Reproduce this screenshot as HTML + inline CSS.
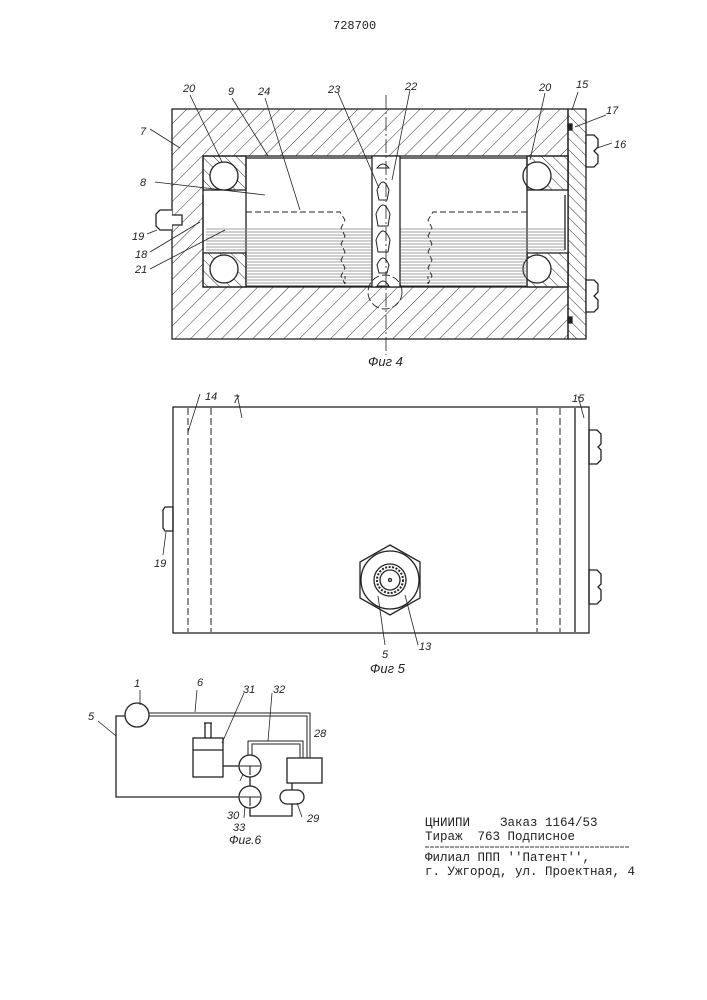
<!DOCTYPE html>
<html><head><meta charset="utf-8"><style>
html,body{margin:0;padding:0;background:#fff}
svg{display:block}
text{font-family:"Liberation Sans",sans-serif;font-style:italic;font-size:11px;fill:#222}
.m{font-family:"Liberation Mono",monospace;font-style:normal;font-size:12.5px;fill:#222;white-space:pre}
</style></head><body>
<svg width="707" height="1000" viewBox="0 0 707 1000" xmlns="http://www.w3.org/2000/svg" xml:space="preserve">
<defs>
<pattern id="h" width="11" height="11" patternUnits="userSpaceOnUse" patternTransform="rotate(45)">
<line x1="0" y1="0" x2="0" y2="11" stroke="#333" stroke-width="1"/></pattern>
<pattern id="h2" width="8" height="8" patternUnits="userSpaceOnUse" patternTransform="rotate(-45)">
<line x1="0" y1="0" x2="0" y2="8" stroke="#333" stroke-width="1"/></pattern>
<pattern id="sh" width="4" height="3" patternUnits="userSpaceOnUse">
<line x1="0" y1="1" x2="4" y2="1" stroke="#888" stroke-width="0.8"/></pattern>
</defs>
<text x="333" y="29" class="m" style="font-size:12px">728700</text>

<!-- Fig 4 -->
<g stroke="#222" stroke-width="1.3" fill="none">
<rect x="172" y="109" width="396" height="230" fill="url(#h)"/>
<rect x="568" y="109" width="18" height="230" fill="url(#h2)"/>
<rect x="203" y="156" width="365" height="131" fill="#fff"/>
<rect x="203" y="156" width="43" height="34" fill="url(#h2)"/>
<rect x="203" y="253" width="43" height="34" fill="url(#h2)"/>
<rect x="527" y="156" width="41" height="34" fill="url(#h2)"/>
<rect x="527" y="253" width="41" height="34" fill="url(#h2)"/>
<circle cx="224" cy="176" r="14" fill="#fff"/><circle cx="224" cy="269" r="14" fill="#fff"/>
<circle cx="537" cy="176" r="14" fill="#fff"/><circle cx="537" cy="269" r="14" fill="#fff"/>
<rect x="246" y="158" width="281" height="128"/>
<rect x="246" y="228" width="126" height="58" fill="url(#sh)" stroke="none"/>
<rect x="400" y="228" width="127" height="58" fill="url(#sh)" stroke="none"/>
<rect x="206" y="228" width="40" height="24" fill="url(#sh)" stroke="none"/>
<rect x="527" y="228" width="38" height="24" fill="url(#sh)" stroke="none"/>
<line x1="203" y1="195" x2="203" y2="250"/><line x1="565" y1="195" x2="565" y2="250"/>
<rect x="372" y="156" width="28" height="131" fill="#fff"/>
<g stroke-dasharray="6,3" stroke-width="0.9">
<path d="M246 212 H340 l5 8 -4 8 4 8 -4 8 4 8 -4 8 4 8 -4 8 4 8 V276"/>
<path d="M527 212 H433 l-5 8 4 8 -4 8 4 8 -4 8 4 8 -4 8 4 8 -4 8 V276"/>
</g>
<path d="M377 168 q6 -8 12 0 z M377 190 q6 -16 12 0 l-2 10 h-8z M376 214 q7 -18 14 0 l-2 12 h-10z M376 240 q7 -18 14 0 l-2 12 h-10z M377 265 q6 -14 12 0 l-2 8 h-8z M377 286 q6 -10 12 0z" stroke-width="1"/>
<circle cx="385" cy="292" r="17" stroke-dasharray="8,3" stroke-width="0.9"/>
<line x1="386" y1="95" x2="386" y2="355" stroke-dasharray="14,3,2,3" stroke-width="0.8"/>
<path d="M586 135 h8 l4 4 v8 l-4 4 l4 4 v8 l-4 4 h-8z M586 280 h8 l4 4 v8 l-4 4 l4 4 v8 l-4 4 h-8z" fill="#fff"/>
<rect x="568" y="124" width="4" height="6" fill="#222"/><rect x="568" y="317" width="4" height="6" fill="#222"/>
<path d="M172 210 h-12 l-4 4 v12 l4 4 h12 M172 215 h10 v10 h-10" fill="#fff"/>
<g stroke-width="0.8">
<line x1="190" y1="95" x2="222" y2="162"/><line x1="232" y1="98" x2="268" y2="156"/>
<line x1="265" y1="98" x2="300" y2="210"/><line x1="338" y1="93" x2="379" y2="188"/>
<line x1="410" y1="90" x2="392" y2="180"/><line x1="545" y1="93" x2="530" y2="160"/>
<line x1="578" y1="92" x2="572" y2="110"/><line x1="606" y1="115" x2="575" y2="127"/>
<line x1="612" y1="143" x2="597" y2="148"/><line x1="150" y1="129" x2="180" y2="148"/>
<line x1="155" y1="182" x2="265" y2="195"/><line x1="147" y1="234" x2="157" y2="230"/>
<line x1="150" y1="252" x2="200" y2="222"/><line x1="150" y1="269" x2="225" y2="230"/>
</g>
</g>
<text x="183" y="92">20</text><text x="228" y="95">9</text><text x="258" y="95">24</text>
<text x="328" y="93">23</text><text x="405" y="90">22</text><text x="539" y="91">20</text>
<text x="576" y="88">15</text><text x="606" y="114">17</text><text x="614" y="148">16</text>
<text x="140" y="135">7</text><text x="140" y="186">8</text><text x="132" y="240">19</text>
<text x="135" y="258">18</text><text x="135" y="273">21</text>
<text x="368" y="366" style="font-size:13px">Фиг 4</text>

<!-- Fig 5 -->
<g stroke="#222" stroke-width="1.3" fill="none">
<rect x="173" y="407" width="416" height="226"/>
<g stroke-dasharray="7,3" stroke-width="1"><line x1="188" y1="408" x2="188" y2="632"/><line x1="211" y1="408" x2="211" y2="632"/><line x1="537" y1="408" x2="537" y2="632"/><line x1="560" y1="408" x2="560" y2="632"/></g>
<line x1="575" y1="408" x2="575" y2="632"/>
<path d="M589 430 h8 l4 4 v10 l-3 3 l3 3 v10 l-4 4 h-8z M589 570 h8 l4 4 v10 l-3 3 l3 3 v10 l-4 4 h-8z M173 507 h-8 l-2 3 v18 l2 3 h8z"/>
<polygon points="390,545 420,562 420,598 390,615 360,598 360,562"/>
<circle cx="390" cy="580" r="29"/><circle cx="390" cy="580" r="16"/><circle cx="390" cy="580" r="13" stroke-dasharray="2,1.5" stroke-width="2"/><circle cx="390" cy="580" r="10"/>
<circle cx="390" cy="580" r="1.5"/>
<g stroke-width="0.8"><line x1="200" y1="394" x2="188" y2="432"/><line x1="237" y1="394" x2="242" y2="418"/><line x1="578" y1="396" x2="584" y2="418"/><line x1="163" y1="555" x2="166" y2="532"/><line x1="385" y1="645" x2="378" y2="596"/><line x1="418" y1="645" x2="405" y2="595"/></g>
</g>
<text x="205" y="400">14</text><text x="233" y="403">7</text><text x="572" y="402">15</text><text x="154" y="567">19</text>
<text x="382" y="658">5</text><text x="419" y="650">13</text>
<text x="370" y="673" style="font-size:13px">Фиг 5</text>

<!-- Fig 6 -->
<g stroke="#222" stroke-width="1.3" fill="none">
<circle cx="137" cy="715" r="12"/>
<path d="M149 713 H310 V758 M149 716 H307 V758" stroke-width="1"/>
<path d="M125 716 H116 V797 H239"/>
<rect x="287" y="758" width="35" height="25"/>
<circle cx="250" cy="766" r="11"/><circle cx="250" cy="797" r="11"/>
<path d="M240 766 h20 M250 766 v9 M240 797 h20 M250 797 v9" stroke-width="1.1"/>
<rect x="193" y="738" width="30" height="39"/><line x1="193" y1="750" x2="223" y2="750"/>
<path d="M205 723 v15 M211 723 v15 M204 723 h8"/>
<line x1="223" y1="766" x2="239" y2="766"/>
<path d="M248 755 V741 H303 V758 M252 755 V744 H300 V758" stroke-width="1"/>
<line x1="250" y1="777" x2="250" y2="786"/>
<rect x="280" y="790" width="24" height="14" rx="7"/>
<line x1="292" y1="783" x2="292" y2="790"/>
<path d="M250 808 V816 H292 V804"/>
<g stroke-width="0.8"><line x1="140" y1="690" x2="140" y2="705"/><line x1="197" y1="690" x2="195" y2="712"/><line x1="244" y1="693" x2="222" y2="743"/><line x1="272" y1="693" x2="268" y2="741"/><line x1="98" y1="721" x2="116" y2="736"/><line x1="240" y1="781" x2="243" y2="774"/><line x1="244" y1="818" x2="245" y2="806"/><line x1="302" y1="817" x2="297" y2="803"/></g>
</g>
<text x="134" y="687">1</text><text x="197" y="686">6</text><text x="243" y="693">31</text><text x="273" y="693">32</text>
<text x="314" y="737">28</text><text x="88" y="720">5</text><text x="227" y="819">30</text><text x="233" y="831">33</text><text x="307" y="822">29</text>
<text x="229" y="844" style="font-size:12px">Фиг.6</text>

<text x="425" y="826" class="m">ЦНИИПИ    Заказ 1164/53</text>
<text x="425" y="840" class="m">Тираж  763 Подписное</text>
<line x1="425" y1="847" x2="630" y2="847" stroke="#333" stroke-width="1" stroke-dasharray="4,1"/>
<text x="425" y="861" class="m">Филиал ППП ''Патент'',</text>
<text x="425" y="875" class="m">г. Ужгород, ул. Проектная, 4</text>
</svg>
</body></html>
